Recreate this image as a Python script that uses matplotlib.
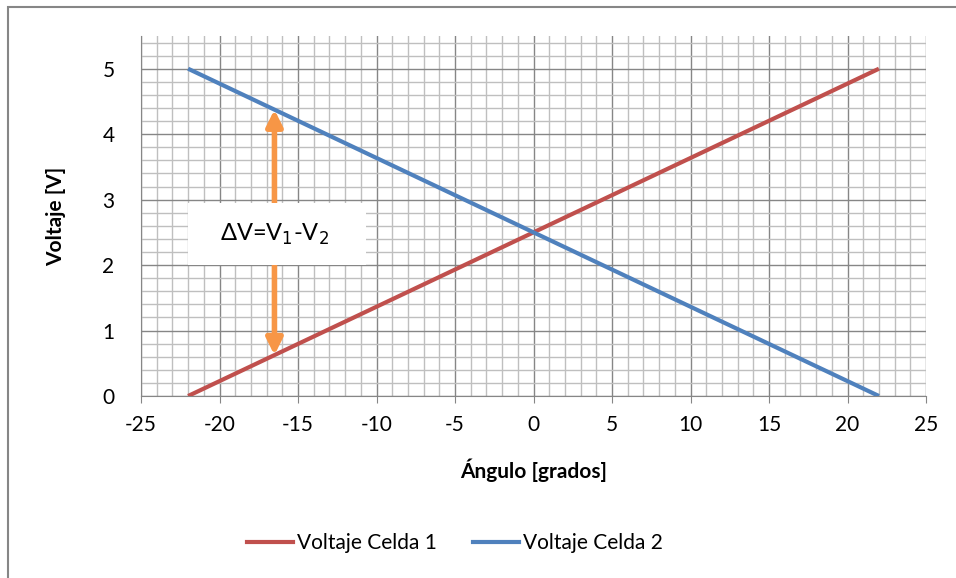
import matplotlib
matplotlib.use('Agg')
import matplotlib.pyplot as plt
from matplotlib.lines import Line2D
from matplotlib.patches import Rectangle

# datos
angulo = [-22, -11, 0, 11, 22]
voltaje_celda1 = [0.0, 1.25, 2.5, 3.75, 5.0]
voltaje_celda2 = [5.0, 3.75, 2.5, 1.25, 0.0]
x_ticks = [-25, -20, -15, -10, -5, 0, 5, 10, 15, 20, 25]
y_ticks = [0, 1, 2, 3, 4, 5]
flecha_x = -16.5
flecha_y = [0.625, 4.375]

rojo = '#C0504D'
azul = '#4F81BD'
naranja = '#F79646'

plt.rcParams['font.family'] = ['Lato', 'DejaVu Sans']
plt.rcParams['axes.unicode_minus'] = False

W, H = 956, 578
fig = plt.figure(figsize=(W/100, H/100), dpi=100)
ax = fig.add_axes([141/W, 1-396/H, (926-141)/W, (396-36)/H])

ax.set_xlim(-25, 25)
ax.set_ylim(0, 5.5)
ax.set_xticks(x_ticks)
ax.set_yticks(y_ticks)
ax.set_xticks([v for v in range(-25, 26)], minor=True)
ax.set_yticks([i*0.2 for i in range(28)], minor=True)
ax.grid(which='minor', color='#BFBFBF', lw=1.0, zorder=0)
ax.grid(which='major', color='#868686', lw=1.0, zorder=0)
ax.set_axisbelow(True)

for s in ['top', 'right']:
    ax.spines[s].set_visible(False)
ax.spines['left'].set_color('#868686')
ax.spines['bottom'].set_color('#868686')
ax.tick_params(axis='x', which='major', length=5, color='#868686', labelsize=15, pad=9)
ax.tick_params(axis='y', which='major', length=0, labelsize=15, pad=19)
ax.tick_params(which='minor', length=0)

ax.plot(angulo, voltaje_celda1, color=rojo, lw=3.0, solid_capstyle='butt', zorder=3)
ax.plot(angulo, voltaje_celda2, color=azul, lw=3.0, solid_capstyle='butt', zorder=3)

ax.annotate('', xy=(flecha_x, flecha_y[1]), xytext=(flecha_x, flecha_y[0]),
            arrowprops=dict(arrowstyle='<|-|>', color=naranja, lw=4,
                            mutation_scale=24, shrinkA=0, shrinkB=0), zorder=4)

ax.add_patch(Rectangle((-22, 2.0), 11.3, 0.95, facecolor='white', edgecolor='none', zorder=5))
ax.text(-16.5, 2.47, r'ΔV=V$_1$-V$_2$', fontsize=17, ha='center', va='center', zorder=6)

ax.set_xlabel('Ángulo [grados]', fontsize=15, fontweight='bold')
ax.xaxis.set_label_coords(0.5, -(470-396)/360)
ax.xaxis.label.set_va('center')
ax.set_ylabel('Voltaje [V]', fontsize=15, fontweight='bold')
ax.yaxis.set_label_coords((56-141)/785, 0.5)
ax.yaxis.label.set_va('center')

handles = [Line2D([], [], color=rojo, lw=3.0), Line2D([], [], color=azul, lw=3.0)]
fig.legend(handles, ['Voltaje Celda 1', 'Voltaje Celda 2'], loc='center',
           bbox_to_anchor=(455/W, 1-543/H), ncol=2, frameon=False, fontsize=15,
           handlelength=2.2, handletextpad=0.2, columnspacing=1.7)

fig.patches.append(Rectangle((8/W, -0.1), 1.2, 1-7/H+0.1, transform=fig.transFigure,
                             facecolor='none', edgecolor='#868686', lw=1.5))

fig.savefig('out.png', dpi=100)
